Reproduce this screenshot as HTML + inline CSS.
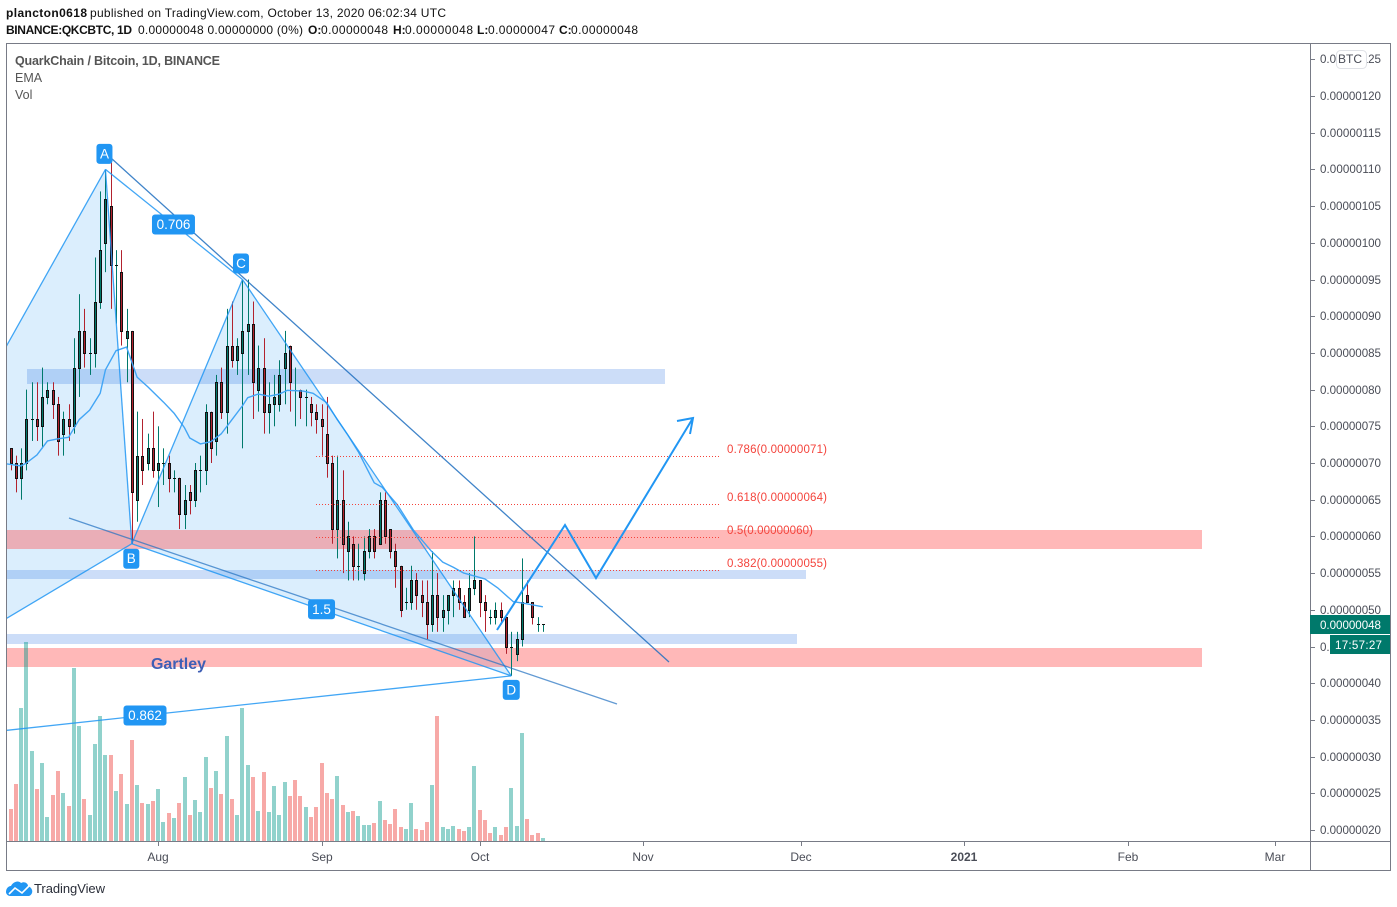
<!DOCTYPE html>
<html lang="en">
<head>
<meta charset="utf-8">
<title>QKCBTC chart</title>
<style>
html,body{margin:0;padding:0;background:#fff;width:1397px;height:907px;overflow:hidden}
svg{display:block;font-family:"Liberation Sans",Arial,sans-serif}
</style>
</head>
<body>
<svg id="chart" width="1397" height="907" viewBox="0 0 1397 907" xmlns="http://www.w3.org/2000/svg">
<defs><clipPath id="pane"><rect x="7" y="44" width="1303" height="797"/></clipPath></defs>

<text y="17" font-size="12" fill="#111"><tspan x="6" font-weight="bold" textLength="81">plancton0618</tspan><tspan x="90" textLength="356">published on TradingView.com, October 13, 2020 06:02:34 UTC</tspan></text>
<text y="34" font-size="12" fill="#111"><tspan x="6" font-weight="bold" textLength="126">BINANCE:QKCBTC, 1D</tspan><tspan x="138" textLength="165">0.00000048 0.00000000 (0%)</tspan><tspan x="308" font-weight="bold">O:</tspan><tspan x="321" textLength="67">0.00000048</tspan><tspan x="393" font-weight="bold">H:</tspan><tspan x="405" textLength="68">0.00000048</tspan><tspan x="477" font-weight="bold">L:</tspan><tspan x="488" textLength="67">0.00000047</tspan><tspan x="559" font-weight="bold">C:</tspan><tspan x="571" textLength="67">0.00000048</tspan></text>

<g id="under" clip-path="url(#pane)"></g>

<g clip-path="url(#pane)">
<rect x="27" y="369" width="638" height="15" fill="#2a6fe0" fill-opacity=".24"/>
<rect x="7" y="530" width="1195" height="19" fill="#ff5252" fill-opacity=".41"/>
<rect x="7" y="570" width="799" height="9" fill="#2a6fe0" fill-opacity=".24"/>
<rect x="7" y="634" width="790" height="10" fill="#2a6fe0" fill-opacity=".24"/>
<rect x="7" y="648" width="1195" height="19" fill="#ff5252" fill-opacity=".41"/>
</g>

<g id="marks" clip-path="url(#pane)"></g>

<g font-size="11.5" fill="#f4433b">
<line x1="316" x2="721" y1="456.5" y2="456.5" stroke="#f4433b" stroke-dasharray="1 2"/>
<line x1="316" x2="721" y1="504.5" y2="504.5" stroke="#f4433b" stroke-dasharray="1 2"/>
<line x1="316" x2="721" y1="537.5" y2="537.5" stroke="#f4433b" stroke-dasharray="1 2"/>
<line x1="316" x2="721" y1="570.5" y2="570.5" stroke="#f4433b" stroke-dasharray="1 2"/>
<text x="727" y="453" textLength="100">0.786(0.00000071)</text>
<text x="727" y="501" textLength="100">0.618(0.00000064)</text>
<text x="727" y="534" textLength="86">0.5(0.00000060)</text>
<text x="727" y="567" textLength="100">0.382(0.00000055)</text>
</g>

<g clip-path="url(#pane)">
<line x1="111" y1="158" x2="669" y2="662" stroke="#1f6fc0" stroke-opacity=".85" stroke-width="1.3"/>
<line x1="69" y1="518" x2="617" y2="704" stroke="#1f6fc0" stroke-opacity=".7" stroke-width="1.3"/>
<polyline points="497,630 565,525 596,578 693,418" fill="none" stroke="#2196f3" stroke-width="2"/>
<polyline points="677,421 693,418 690,434" fill="none" stroke="#2196f3" stroke-width="2"/>
<text x="151" y="669" font-size="16" font-weight="bold" fill="#3f5fb5" textLength="55">Gartley</text>
</g>

<g id="badges"></g>

<g fill="none" stroke="#787b86">
<rect x="6.5" y="43.5" width="1384" height="827"/>
<line x1="1310.5" y1="44" x2="1310.5" y2="870"/>
<line x1="7" y1="841.5" x2="1390" y2="841.5"/>
</g>

<g id="axes"></g>

<g>
<rect x="1336.5" y="50.5" width="30" height="18" rx="4" fill="#fff" stroke="#dfe1e6"/>
<text x="1350" y="63" font-size="12" fill="#4a4d57" text-anchor="middle">BTC</text>
<rect x="1310" y="615" width="80" height="19" fill="#00796b"/>
<text x="1320" y="629" font-size="11.6" fill="#fff" textLength="61">0.00000048</text>
<rect x="1330" y="635" width="60" height="19" fill="#00796b"/>
<text x="1335" y="649" font-size="11.6" fill="#fff" textLength="47">17:57:27</text>
</g>

<g font-size="12.5" fill="#555">
<text x="15" y="65" font-weight="bold" textLength="205">QuarkChain / Bitcoin, 1D, BINANCE</text>
<text x="15" y="82">EMA</text>
<text x="15" y="99">Vol</text>
</g>

<g>
<path d="M6 892 C6 888 9 886 11 886 C13 882 18 880 21 883 C24 881 28 883 28 886 C31 887 33 890 32 893 C31 895 30 896 28 896 L10 896 C8 896 6 894 6 892 Z" fill="#2196f3"/>
<polyline points="9,894 15,888 22,893 29,886" fill="none" stroke="#fff" stroke-width="1.6"/>
<text x="34" y="893" font-size="13" fill="#2a2e39" textLength="71">TradingView</text>
</g>
</svg>

<script>
// Candle values, in satoshi (1e-8 BTC)
const opens  = [72,70,68,70,76,76,75,79,80,78,74,76,75,83,88,85,85,92,100,105,97,96,87,88,65,71,70,72,69,70,70,68,68,63,66,65,69,69,77,73,81,77,86,84,85,88,89,80,83,77,78,78,83,86,80,80,79,78,77,76,74,70,61,65,58,59,56,55,58,60,59,65,61,58,56,51,51,54,52,51,48,52,49,50,52,53,51,50,53,54,51,49,49,50,49,45,44,46,52,51,48,48];
const closes = [70,68,70,76,76,75,79,80,78,73,76,75,83,88,85,85,92,99,106,97,97,88,88,66,71,69,72,69,70,70,68,68,63,65,65,69,69,77,72,81,77,86,84,86,88,89,81,83,77,78,79,82,85,81,80,79,79,77,76,75,70,61,65,59,60,56,56,58,60,58,65,60,58,56,50,51,54,52,51,48,52,49,50,52,53,51,49,53,54,51,50,49,50,49,45,45,46,51,51,49,48,48];
const highs  = [72,71,72,80,81,81,83,81,81,79,77,78,87,93,91,87,98,107,110,111,99,99,91,88,77,76,74,77,75,72,71,69,68,67,67,70,71,78,77,82,83,91,92,87,95,95,92,86,87,81,82,84,88,86,83,80,80,79,78,78,79,71,71,69,62,60,59,60,61,61,66,66,61,59,56,53,56,55,54,54,58,55,52,52,54,54,52,55,60,54,52,50,51,51,49,47,47,57,54,51,49,48];
const lows   = [69,66,65,69,73,73,72,78,76,71,71,73,74,79,83,82,83,91,96,91,89,86,81,59,62,67,69,68,64,67,66,66,61,61,63,64,66,67,70,71,76,74,83,82,72,82,76,77,74,74,75,77,78,77,75,76,75,75,74,71,68,59,57,55,54,54,54,54,57,57,59,59,57,53,49,50,50,50,49,46,47,47,47,48,49,50,49,49,52,49,47,48,48,48,44,41,43,45,51,48,47,47];
// Volume values per candle
const volumes = [32,57,133,199,90,52,78,24,46,70,48,35,173,115,42,26,97,125,86,86,50,67,37,101,56,38,37,40,52,19,28,23,38,64,26,41,29,84,53,70,47,105,42,26,133,76,64,30,69,29,55,26,59,45,61,45,34,24,34,78,48,42,65,36,29,30,25,16,16,18,40,21,17,32,14,12,38,12,11,19,56,125,14,12,15,12,10,14,75,31,21,8,14,6,14,53,15,108,22,6,8,3];
// EMA readings: candle position and value
const emaDays   = [-1,2,3,5,7,9,11,13,15,17,18,20,22,24,26,29,31,33,34,36,38,40,42,44,45,47,49,51,52.5,55.5,57.4,60,62,64,66,69,70.5,73.4,76.4,79.7,82,84,86,90,92.4,95.4,97.3,101];
const emaValues = [69.9,69.6,70,71.1,73,73.3,73.5,75.9,77.2,79.5,82.7,85.3,85.8,81.7,80.4,78.3,76.8,74.8,73.4,72.6,72.9,74,75.9,77.8,78.9,79.4,79.1,79.4,79.9,79.8,79.5,78.2,75.9,73.8,71.5,67.3,66.7,64.3,60.9,58.1,56.5,55.8,55,54.2,53,51.1,50.9,50.4];
// Harmonic pattern pivots X, A, B, C, D
const pivotNames  = ['X','A','B','C','D'];
const pivotDays   = [-44.3,18,23,44,95];
const pivotPrices = [30.2,110,59,95,41];
// Axis ticks
const priceTicks = [125,120,115,110,105,100,95,90,85,80,75,70,65,60,55,50,45,40,35,30,25,20];
const timeLabels = ['Aug','Sep','Oct','Nov','Dec','2021','Feb','Mar'];
const timeDays   = [28,59,89,120,150,181,212,240];

const NS = 'http://www.w3.org/2000/svg';
const xScale = d => 10.6 + 5.27 * d;
const yScale = p => 830 - (p - 20) * 7.34;
const volHeight = v => v;
const BASE = 841;
const GREEN = '#00796b', RED = '#b2222e', BLUE = '#2196f3';

function mk(tag, parent, attrs, text) {
  const el = document.createElementNS(NS, tag);
  for (const k in attrs) el.setAttribute(k, attrs[k]);
  if (text !== undefined) el.textContent = text;
  parent.appendChild(el);
  return el;
}

const under = document.getElementById('under');
const marks = document.getElementById('marks');
const badges = document.getElementById('badges');
const axes = document.getElementById('axes');
const px = i => xScale(pivotDays[i]);
const py = i => yScale(pivotPrices[i]);

// pattern fills
[[0,1,2],[2,3,4]].forEach(function (t) {
  const tri = mk('polygon', under, {points: t.map(i => px(i) + ',' + py(i)).join(' '), fill: '#2196f3', 'fill-opacity': .16});
  
  
});

// volume
volumes.forEach(function (v, i) {
  const n = Math.round(xScale(i));
  const h = volHeight(v);
  const bar = mk('rect', marks, {x: n - 2, y: BASE - h, width: 4, height: h,
    fill: closes[i] > opens[i] || (closes[i] === opens[i] && v !== 0 && i !== 0 && closes[i] >= closes[i-1]) ? 'rgba(0,150,136,.43)' : 'rgba(239,83,80,.5)'});
  
  
});

// candles
opens.forEach(function (o, i) {
  const c = closes[i];
  const n = Math.round(xScale(i));
  const color = c > o || c === o ? GREEN : RED;
  const g = mk('g', marks, {});
  
  
  mk('rect', g, {x: n, y: yScale(highs[i]), width: 1, height: yScale(lows[i]) - yScale(highs[i]), fill: color});
  if (o === c) {
    mk('rect', g, {x: n - 1, y: Math.round(yScale(o)), width: 3, height: 1, fill: '#111'});
  } else {
    const top = Math.round(yScale(Math.max(o, c))) + .5;
    const bot = Math.round(yScale(Math.min(o, c))) + .5;
    mk('rect', g, {x: n - .5, y: top, width: 2, height: bot - top, fill: color, stroke: '#111', 'stroke-width': 1});
  }
});

// EMA
const emaLine = mk('polyline', marks, {
  points: emaDays.map((d, i) => xScale(d) + ',' + yScale(emaValues[i])).join(' '),
  fill: 'none', stroke: '#42a5f5', 'stroke-width': 1.4, 'stroke-linejoin': 'round'});



// pattern lines
[[0,1],[1,2],[2,3],[3,4],[0,2],[1,3],[2,4],[0,4]].forEach(function (s) {
  const ln = mk('line', marks, {x1: px(s[0]), y1: py(s[0]), x2: px(s[1]), y2: py(s[1]), stroke: BLUE, 'stroke-opacity': .85, 'stroke-width': 1.3});
  
  
});

function badge(cx, cy, w, label, name) {
  const g = mk('g', badges, {});
  
  
  mk('rect', g, {x: cx - w / 2, y: cy - 10, width: w, height: 20, rx: 3, fill: BLUE});
  const t = mk('text', g, {x: cx, y: cy + 4.5, 'font-size': 13.5, fill: '#fff', 'text-anchor': 'middle'}, label);
  
  
}
badge(px(1) - 1, py(1) - 15.5, 16, pivotNames[1], 'pivot-a');
badge(px(2) - .5, py(2) + 15, 16, pivotNames[2], 'pivot-b');
badge(px(3) - 1.5, py(3) - 16, 16, pivotNames[3], 'pivot-c');
badge(px(4), py(4) + 14, 17, pivotNames[4], 'pivot-d');
badge((px(1) + px(3)) / 2 - .5, (py(1) + py(3)) / 2, 43, '0.706', 'ratio-ac');
badge((px(2) + px(4)) / 2, (py(2) + py(4)) / 2 - .5, 27, '1.5', 'ratio-bd');
badge(145, (py(0) + py(4)) / 2, 43, '0.862', 'ratio-xd');

// axes
priceTicks.forEach(function (p) {
  const y = Math.round(yScale(p)) + .5;
  const tick = mk('line', axes, {x1: 1311, x2: 1315, y1: y, y2: y, stroke: '#787b86'});
  
  
  const label = mk('text', axes, {x: 1320, y: y + 3.5, 'font-size': 11.6, fill: '#4a4d57', textLength: 61}, (p * 1e-8).toFixed(8));
  
  
});
timeLabels.forEach(function (name, i) {
  const x = Math.round(xScale(timeDays[i])) + .5;
  const tick = mk('line', axes, {x1: x, x2: x, y1: 842, y2: 846, stroke: '#787b86'});
  
  
  const label = mk('text', axes, {x: x - .5, y: 861, 'font-size': 12, fill: '#4a4d57', 'text-anchor': 'middle', 'font-weight': name === '2021' ? 'bold' : 'normal'}, name);
  
  
});
</script>
</body>
</html>
